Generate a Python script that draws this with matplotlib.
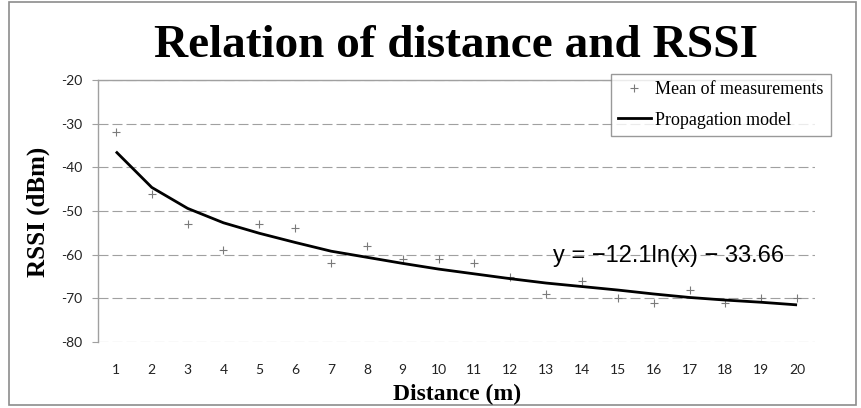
import matplotlib
matplotlib.use("Agg")
import matplotlib.pyplot as plt
from matplotlib.lines import Line2D
from matplotlib.patches import Rectangle

plt.rcParams["axes.unicode_minus"] = False

# ---- data ----
distance = list(range(1, 21))
mean_rssi = [-32, -46, -53, -59, -53, -54, -62, -58, -61, -61,
             -62, -65, -69, -66, -70, -71, -68, -71, -70, -70]
model_rssi = [-36.4, -44.6, -49.4, -52.7, -55.1, -57.2, -59.2, -60.6, -62.0, -63.3,
              -64.4, -65.5, -66.5, -67.3, -68.1, -69.0, -69.8, -70.4, -70.9, -71.5]
y_ticks = [-80, -70, -60, -50, -40, -30, -20]
title = "Relation of distance and RSSI"
xlabel = "Distance (m)"
ylabel = "RSSI (dBm)"
legend_labels = ["Mean of measurements", "Propagation model"]
equation = "y = \u221212.1ln(x) \u2212 33.66"

W, H = 861, 408
fig = plt.figure(figsize=(W / 100, H / 100), dpi=100)
fig.patch.set_facecolor("white")

ax = fig.add_axes([98 / W, 1 - 342 / H, 717 / W, 262 / H])

grid_color = "#a0a0a0"
ax.set_xlim(0.5, 20.5)
ax.set_ylim(-80, -20)
ax.set_yticks(y_ticks)
ax.set_yticklabels([str(v) for v in y_ticks])
ax.set_xticks(distance)
ax.set_xticklabels([str(d) for d in distance])

ax.yaxis.grid(True, color=grid_color, linestyle=(0, (9, 3.6)), linewidth=0.8)
ax.set_axisbelow(True)

for s in ["right", "bottom"]:
    ax.spines[s].set_visible(False)
ax.spines["left"].set_color(grid_color)
ax.spines["left"].set_linewidth(1.0)
ax.spines["top"].set_color(grid_color)
ax.spines["top"].set_linewidth(1.0)

ax.tick_params(axis="y", direction="out", length=4, width=0.8, color=grid_color,
               pad=7, labelcolor="#222222", labelsize=10)
ax.tick_params(axis="x", length=0, pad=16, labelcolor="#222222", labelsize=10)
for lab in ax.get_xticklabels() + ax.get_yticklabels():
    lab.set_family("Lato")

ax.plot(distance, mean_rssi, linestyle="none", marker="+", markersize=6,
        markeredgewidth=0.8, color="#7a7a7a", zorder=3)
ax.plot(distance, model_rssi, color="black", linewidth=2.0, zorder=4,
        solid_capstyle="butt", solid_joinstyle="round")

ax.text(13.19, -60.3, equation, family="Liberation Sans", fontsize=17,
        ha="left", va="center", color="black", zorder=5)

# titles
fig.text(456.5 / W, 1 - 57 / H, title, family="Liberation Serif", weight="bold",
         fontsize=34, ha="center", va="baseline")
fig.text(457 / W, 1 - 400 / H, xlabel, family="Liberation Serif", weight="bold",
         fontsize=17, ha="center", va="baseline")
fig.text(38 / W, 1 - 212 / H, ylabel, family="Liberation Serif", weight="bold",
         fontsize=18, ha="center", va="center", rotation=90)

# legend
handles = [
    Line2D([], [], linestyle="none", marker="+", markersize=6, markeredgewidth=0.8,
           color="#7a7a7a"),
    Line2D([], [], color="black", linewidth=2.0),
]
leg = fig.legend(handles, legend_labels, loc="upper left",
                 bbox_to_anchor=(611 / W, 1 - 74 / H), borderaxespad=0,
                 prop=dict(family="Liberation Serif", size=13),
                 frameon=True, fancybox=False, edgecolor="#808080",
                 handlelength=1.8, handletextpad=0.25, labelspacing=0.75,
                 borderpad=0.4)
leg.get_frame().set_linewidth(1.0)

# outer chart border
fig.patches.append(Rectangle((9 / W, 3 / H), (856 - 9) / W, (406 - 3) / H,
                             transform=fig.transFigure, fill=False,
                             edgecolor="#8c8c8c", linewidth=1.2))

fig.savefig("out.png", dpi=100, facecolor="white")
